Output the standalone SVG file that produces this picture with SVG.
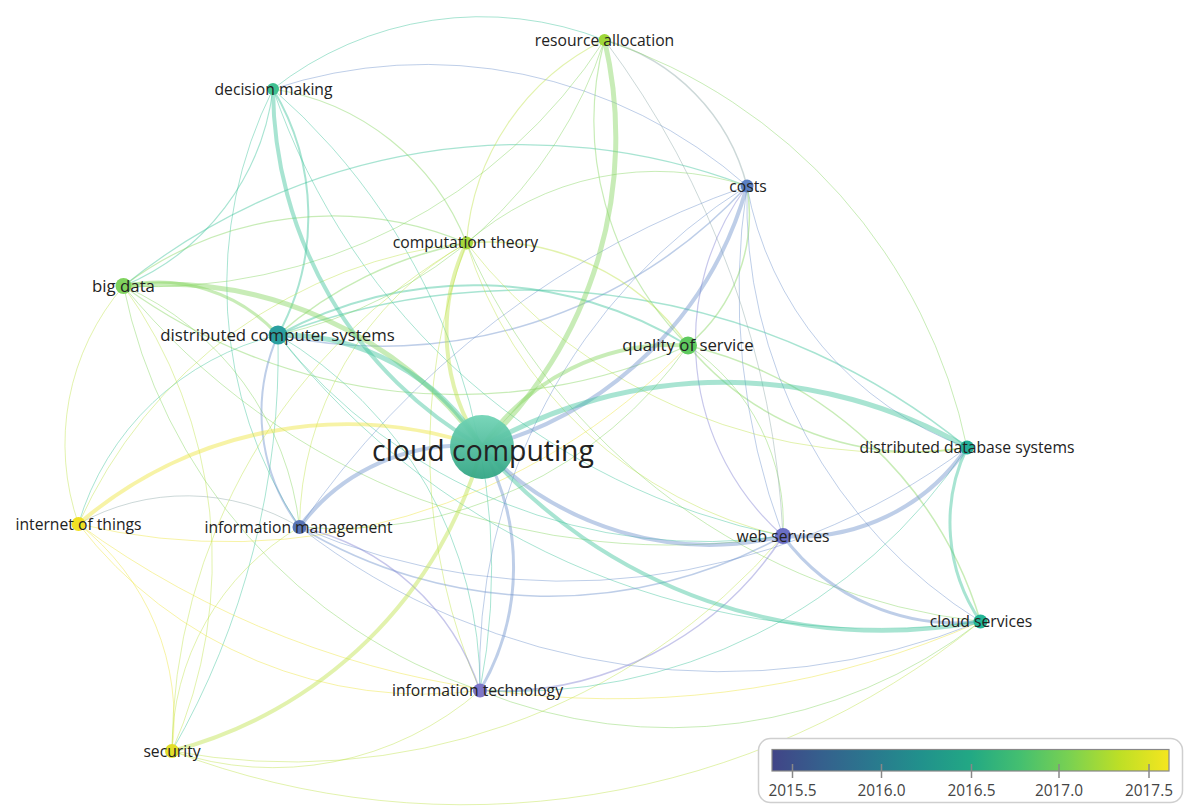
<svg xmlns="http://www.w3.org/2000/svg" width="1201" height="810" viewBox="0 0 1201 810">
<defs>
<style>
.e{fill:none;stroke-linecap:round;stroke-opacity:0.45}
.teal{stroke:#3dc39b}
.green{stroke:#86d55f}
.yg{stroke:#bfe24a}
.yel{stroke:#eee43a}
.blue{stroke:#6f92cc}
.pur{stroke:#8282d2}
.gray{stroke:#8fa8a8}
.lbl{font-family:"Open Sans","Noto Sans","Liberation Sans",sans-serif;font-size:15.7px;fill:#222;text-anchor:middle}
.big{font-size:16.8px}
.tick{font-family:"Open Sans","Noto Sans","Liberation Sans",sans-serif;font-size:15.4px;fill:#444;text-anchor:middle}
</style>
<linearGradient id="vir" x1="0" y1="0" x2="1" y2="0">
<stop offset="0" stop-color="#414487"/>
<stop offset="0.125" stop-color="#35608d"/>
<stop offset="0.25" stop-color="#2a788e"/>
<stop offset="0.375" stop-color="#21918c"/>
<stop offset="0.5" stop-color="#22a884"/>
<stop offset="0.625" stop-color="#44bf70"/>
<stop offset="0.75" stop-color="#7ad151"/>
<stop offset="0.875" stop-color="#bddf26"/>
<stop offset="1" stop-color="#f5e61f"/>
</linearGradient>
<linearGradient id="ccg" x1="0" y1="0" x2="0" y2="1">
<stop offset="0" stop-color="#72d4b6"/>
<stop offset="1" stop-color="#32a584"/>
</linearGradient>
</defs>
<rect width="1201" height="810" fill="#fff"/>
<g id="edges">
<path class="e teal" stroke-width="1" d="M273,89 A336,336 0 0 1 604.5,40"/>
<path class="e blue" stroke-width="1" d="M273,89 A485,485 0 0 1 747,186"/>
<path class="e teal" stroke-width="1.2" d="M123.5,286 A632,632 0 0 1 747,186"/>
<path class="e green" stroke-width="1" d="M466.5,243 A287,287 0 0 1 747,186"/>
<path class="e blue" stroke-width="1.5" d="M278,335 A494,494 0 0 0 747,186"/>
<path class="e gray" stroke-width="1.5" d="M604.5,40 A204,204 0 0 1 747,186"/>
<path class="e yg" stroke-width="1.2" d="M604.5,40 A245,245 0 0 0 466.5,243"/>
<path class="e green" stroke-width="1.2" d="M273,89 A247,247 0 0 1 466.5,243"/>
<path class="e teal" stroke-width="1.2" d="M273,89 A246,246 0 0 1 123.5,286"/>
<path class="e teal" stroke-width="2" d="M273,89 A247,247 0 0 1 278,335"/>
<path class="e teal" stroke-width="1" d="M273,89 A680,680 0 0 0 783,536"/>
<path class="e teal" stroke-width="1" d="M273,89 A438,438 0 0 0 299.5,527"/>
<path class="e teal" stroke-width="1" d="M273,89 A636,636 0 0 1 480,690.5"/>
<path class="e green" stroke-width="1.2" d="M123.5,286 A346,346 0 0 1 466.5,243"/>
<path class="e green" stroke-width="1.2" d="M123.5,286 A567,567 0 0 0 688,345.5"/>
<path class="e yg" stroke-width="1" d="M123.5,286 A242,242 0 0 0 78.5,524"/>
<path class="e yg" stroke-width="1" d="M123.5,286 A469,469 0 0 1 172,751"/>
<path class="e green" stroke-width="1" d="M123.5,286 A299,299 0 0 1 299.5,527"/>
<path class="e green" stroke-width="1" d="M123.5,286 A540,540 0 0 0 480,690.5"/>
<path class="e green" stroke-width="1" d="M123.5,286 A706,706 0 0 0 783,536"/>
<path class="e green" stroke-width="1.5" d="M278,335 A400,400 0 0 1 466.5,243"/>
<path class="e teal" stroke-width="2" d="M278,335 A410,410 0 0 1 688,345.5"/>
<path class="e teal" stroke-width="1.5" d="M278,335 A700,700 0 0 1 967,447.5"/>
<path class="e blue" stroke-width="2" d="M278,335 A191,191 0 0 0 299.5,527"/>
<path class="e teal" stroke-width="1" d="M278,335 A409,409 0 0 1 480,690.5"/>
<path class="e teal" stroke-width="1" d="M278,335 A273,273 0 0 0 78.5,524"/>
<path class="e teal" stroke-width="1" d="M278,335 A800,800 0 0 1 172,751"/>
<path class="e teal" stroke-width="1" d="M278,335 A544,544 0 0 0 783,536"/>
<path class="e teal" stroke-width="1" d="M278,335 A760,760 0 0 0 980.5,621.5"/>
<path class="e green" stroke-width="1.5" d="M688,345.5 A298,298 0 0 0 967,447.5"/>
<path class="e green" stroke-width="1" d="M688,345.5 A214,214 0 0 1 783,536"/>
<path class="e green" stroke-width="1.5" d="M688,345.5 A403,403 0 0 1 980.5,621.5"/>
<path class="e green" stroke-width="1" d="M688,345.5 A428,428 0 0 1 299.5,527"/>
<path class="e yel" stroke-width="1" d="M78.5,524 A637,637 0 0 0 688,345.5"/>
<path class="e yg" stroke-width="1.5" d="M466.5,243 A244,244 0 0 1 688,345.5"/>
<path class="e yg" stroke-width="1" d="M466.5,243 A541,541 0 0 0 967,447.5"/>
<path class="e yg" stroke-width="1" d="M466.5,243 A432,432 0 0 0 783,536"/>
<path class="e green" stroke-width="1" d="M466.5,243 A640,640 0 0 0 980.5,621.5"/>
<path class="e yg" stroke-width="1" d="M466.5,243 A330,330 0 0 0 299.5,527"/>
<path class="e yg" stroke-width="1" d="M466.5,243 A600,600 0 0 0 480,690.5"/>
<path class="e yg" stroke-width="1" d="M466.5,243 A478,478 0 0 0 78.5,524"/>
<path class="e yg" stroke-width="1" d="M466.5,243 A588,588 0 0 0 172,751"/>
<path class="e blue" stroke-width="1.5" d="M299.5,527 A484,484 0 0 0 783,536"/>
<path class="e pur" stroke-width="1.5" d="M299.5,527 A245,245 0 0 1 480,690.5"/>
<path class="e blue" stroke-width="1" d="M299.5,527 A689,689 0 0 0 980.5,621.5"/>
<path class="e blue" stroke-width="1" d="M299.5,527 A673,673 0 0 0 967,447.5"/>
<path class="e gray" stroke-width="1" d="M78.5,524 A220,220 0 0 1 299.5,527"/>
<path class="e yel" stroke-width="1" d="M78.5,524 A246,246 0 0 1 172,751"/>
<path class="e yel" stroke-width="1" d="M78.5,524 A907,907 0 0 0 980.5,621.5"/>
<path class="e yel" stroke-width="1" d="M78.5,524 A435,435 0 0 0 480,690.5"/>
<path class="e yg" stroke-width="1" d="M172,751 A258,258 0 0 1 299.5,527"/>
<path class="e yg" stroke-width="1" d="M172,751 A819,819 0 0 0 980.5,621.5"/>
<path class="e yg" stroke-width="1" d="M172,751 A648,648 0 0 0 783,536"/>
<path class="e yg" stroke-width="1" d="M172,751 A315,315 0 0 0 480,690.5"/>
<path class="e pur" stroke-width="1.5" d="M480,690.5 A339,339 0 0 0 783,536"/>
<path class="e teal" stroke-width="1" d="M480,690.5 A543,543 0 0 0 967,447.5"/>
<path class="e green" stroke-width="1" d="M480,690.5 A505,505 0 0 0 980.5,621.5"/>
<path class="e blue" stroke-width="1" d="M747,186 A495,495 0 0 0 980.5,621.5"/>
<path class="e blue" stroke-width="1" d="M747,186 A342,342 0 0 0 967,447.5"/>
<path class="e pur" stroke-width="1.2" d="M747,186 A260,260 0 0 0 783,536"/>
<path class="e blue" stroke-width="1" d="M747,186 A700,700 0 0 0 783,536"/>
<path class="e gray" stroke-width="1" d="M604.5,40 A900,900 0 0 1 783,536"/>
<path class="e green" stroke-width="1" d="M604.5,40 A545,545 0 0 1 967,447.5"/>
<path class="e green" stroke-width="1.5" d="M688,345.5 A171,171 0 0 0 747,186"/>
<path class="e blue" stroke-width="1" d="M747,186 A900,900 0 0 0 299.5,527"/>
<path class="e blue" stroke-width="1" d="M747,186 A571,571 0 0 0 480,690.5"/>
<path class="e green" stroke-width="1.2" d="M604.5,40 A316,316 0 0 0 688,345.5"/>
<path class="e green" stroke-width="1" d="M604.5,40 A540,540 0 0 1 123.5,286"/>
<path class="e green" stroke-width="1" d="M604.5,40 A441,441 0 0 1 278,335"/>
<path class="e green" stroke-width="3" d="M123.5,286 A162,162 0 0 1 278,335"/>
<path class="e blue" stroke-width="4" d="M783,536 A204,204 0 0 0 967,447.5"/>
<path class="e blue" stroke-width="3" d="M783,536 A215,215 0 0 0 980.5,621.5"/>
<path class="e teal" stroke-width="3" d="M967,447.5 A175,175 0 0 0 980.5,621.5"/>
<path class="e green" stroke-width="5" d="M604.5,40 A425,425 0 0 1 482,447"/>
<path class="e teal" stroke-width="4" d="M273,89 A415,415 0 0 0 482,447"/>
<path class="e yg" stroke-width="4" d="M466.5,243 A206,206 0 0 0 482,447"/>
<path class="e green" stroke-width="5" d="M123.5,286 A395,395 0 0 1 482,447"/>
<path class="e teal" stroke-width="5" d="M278,335 A234,234 0 0 1 482,447"/>
<path class="e green" stroke-width="4" d="M482,447 A228,228 0 0 1 688,345.5"/>
<path class="e blue" stroke-width="4" d="M747,186 A372,372 0 0 1 482,447"/>
<path class="e teal" stroke-width="5" d="M482,447 A485,485 0 0 1 967,447.5"/>
<path class="e teal" stroke-width="4" d="M482,447 A528,528 0 0 0 980.5,621.5"/>
<path class="e blue" stroke-width="4" d="M482,447 A314,314 0 0 0 783,536"/>
<path class="e blue" stroke-width="4" d="M299.5,527 A200,200 0 0 1 482,447"/>
<path class="e blue" stroke-width="3" d="M480,690.5 A244,244 0 0 0 482,447"/>
<path class="e yg" stroke-width="4" d="M172,751 A435,435 0 0 0 482,447"/>
<path class="e yel" stroke-width="4" d="M78.5,524 A411,411 0 0 1 482,447"/>
</g>
<g id="n-cloud-computing"><circle cx="482" cy="447" r="32" fill="url(#ccg)" fill-opacity="0.95"/><text class="lbl" x="483" y="461" style="font-size:28.4px">cloud computing</text></g>
<g id="n-resource-allocation"><circle cx="604.5" cy="40" r="6" fill="#9fd83a"/><text class="lbl" x="604.5" y="45.5">resource allocation</text></g>
<g id="n-decision-making"><circle cx="273" cy="89" r="6" fill="#3fc090"/><text class="lbl" x="273.5" y="94.5">decision making</text></g>
<g id="n-costs"><circle cx="747" cy="186" r="6.5" fill="#5b80c4"/><text class="lbl" x="748" y="191.5">costs</text></g>
<g id="n-computation-theory"><circle cx="466.5" cy="243" r="6.5" fill="#a6d83c"/><text class="lbl" x="465.5" y="248">computation theory</text></g>
<g id="n-big-data"><circle cx="123.5" cy="286" r="8" fill="#7fd35e"/><text class="lbl big" x="123.5" y="291.5">big data</text></g>
<g id="n-distributed-computer-systems"><circle cx="278" cy="335" r="9.5" fill="#2a9fa0"/><text class="lbl big" x="277.5" y="340.5">distributed computer systems</text></g>
<g id="n-quality-of-service"><circle cx="688" cy="345.5" r="9" fill="#5ec95e"/><text class="lbl big" x="688" y="351">quality of service</text></g>
<g id="n-distributed-database-systems"><circle cx="967" cy="447.5" r="7" fill="#24ad97"/><text class="lbl" x="967" y="453">distributed database systems</text></g>
<g id="n-internet-of-things"><circle cx="78.5" cy="524" r="7" fill="#f0e024"/><text class="lbl" x="78.5" y="529.5">internet of things</text></g>
<g id="n-information-management"><circle cx="299.5" cy="527" r="7" fill="#5874b6"/><text class="lbl" x="298.5" y="532.5">information management</text></g>
<g id="n-web-services"><circle cx="783" cy="536" r="8" fill="#6a6ec4"/><text class="lbl" x="783" y="541.5">web services</text></g>
<g id="n-cloud-services"><circle cx="980.5" cy="621.5" r="7" fill="#22b596"/><text class="lbl" x="981" y="627">cloud services</text></g>
<g id="n-information-technology"><circle cx="480" cy="690.5" r="7" fill="#7d76c8"/><text class="lbl" x="477.5" y="696">information technology</text></g>
<g id="n-security"><circle cx="172" cy="751" r="7" fill="#e2de2a"/><text class="lbl" x="172" y="756.5">security</text></g>
<g id="legend">
<rect x="758.5" y="738.5" width="424" height="64" rx="12" fill="#fff" stroke="#cfcfcf" stroke-width="1.5"/>
<rect x="772" y="749.5" width="397" height="21.5" fill="url(#vir)" stroke="#888" stroke-width="1.2"/>
<g stroke="#888" stroke-width="1.5">
<line x1="792.5" y1="764" x2="792.5" y2="778"/>
<line x1="881.5" y1="764" x2="881.5" y2="778"/>
<line x1="971.5" y1="764" x2="971.5" y2="778"/>
<line x1="1059" y1="764" x2="1059" y2="778"/>
<line x1="1149" y1="764" x2="1149" y2="778"/>
</g>
<text class="tick" x="792.5" y="796">2015.5</text>
<text class="tick" x="881.5" y="796">2016.0</text>
<text class="tick" x="971.5" y="796">2016.5</text>
<text class="tick" x="1059" y="796">2017.0</text>
<text class="tick" x="1149" y="796">2017.5</text>
</g>
</svg>
